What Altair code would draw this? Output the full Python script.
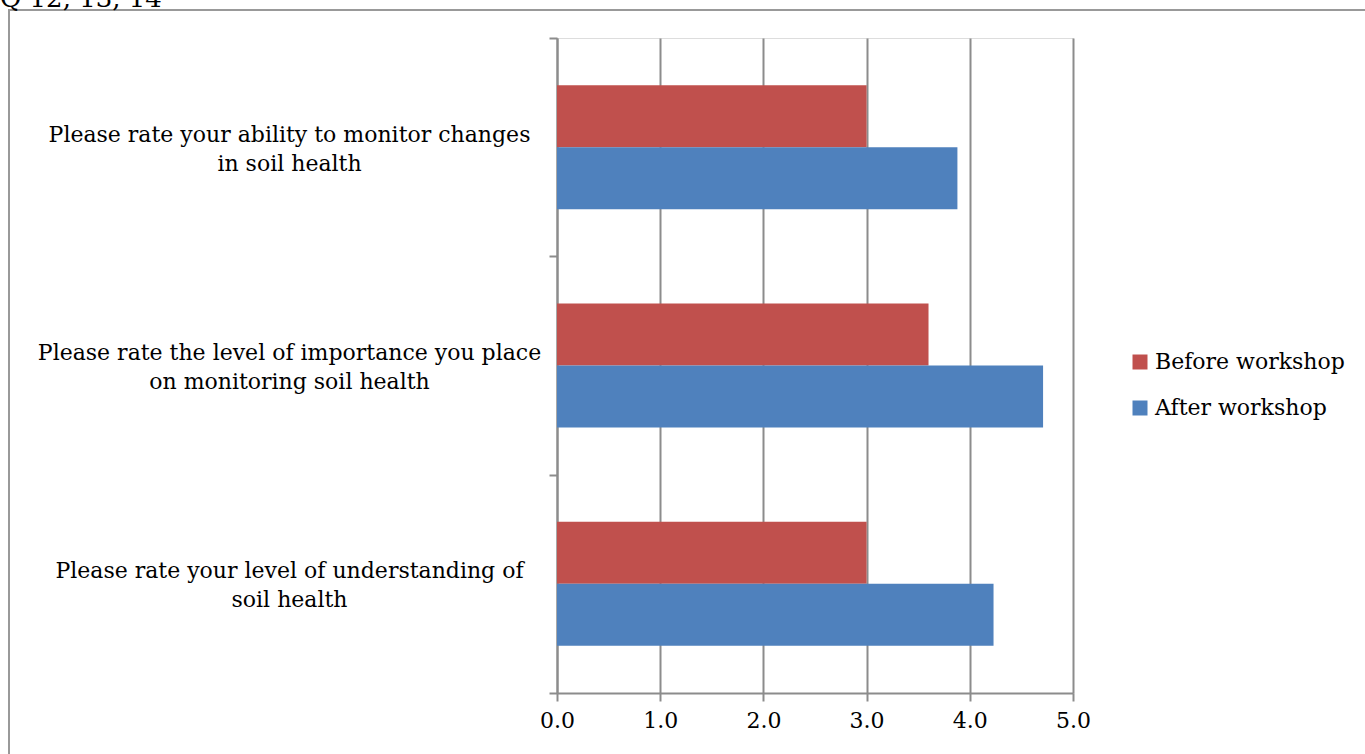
import altair as alt
import pandas as pd

# ---- data ----
categories = [
    "Please rate your ability to monitor changes in soil health",
    "Please rate the level of importance you place on monitoring soil health",
    "Please rate your level of understanding of soil health",
]
label_lines = [
    ["Please rate your ability to monitor changes", "in soil health"],
    ["Please rate the level of importance you place", "on monitoring soil health"],
    ["Please rate your level of understanding of", "soil health"],
]
series = ["Before workshop", "After workshop"]
before_values = [3.0, 3.6, 3.0]
after_values = [3.88, 4.71, 4.23]
x_ticks = [0, 1, 2, 3, 4, 5]
title_text = "Q 12, 13, 14"

colors = ["#C0504D", "#4F81BD"]
FONT = "DejaVu Serif"
FS = 22
GRID = "#8c8c8c"

rows = []
for c, b, a in zip(categories, before_values, after_values):
    rows.append({"question": c, "series": series[0], "value": b})
    rows.append({"question": c, "series": series[1], "value": a})
df = pd.DataFrame(rows)

def js_str(s):
    return "'" + s.replace("'", "\\'") + "'"

mapping = "{" + ",".join(
    js_str(c) + ":[" + ",".join(js_str(l) for l in lines) + "]"
    for c, lines in zip(categories, label_lines)
) + "}"
label_expr = mapping + "[datum.label]"

W, H = 516, 655

bars = alt.Chart(df).mark_bar().encode(
    x=alt.X(
        "value:Q",
        scale=alt.Scale(domain=[0, 5], nice=False),
        axis=alt.Axis(
            values=x_ticks,
            format=".1f",
            title=None,
            grid=True,
            gridColor=GRID,
            gridWidth=2,
            domainColor=GRID,
            domainWidth=2,
            tickColor=GRID,
            tickWidth=2,
            tickSize=8,
            labelFlush=False,
            labelFont=FONT,
            labelFontSize=FS,
            labelColor="#000000",
            labelPadding=9,
        ),
    ),
    y=alt.Y(
        "question:N",
        sort=categories,
        scale=alt.Scale(paddingInner=0, paddingOuter=0),
        axis=alt.Axis(
            title=None,
            tickBand="extent",
            domainColor=GRID,
            domainWidth=2,
            tickColor=GRID,
            tickWidth=2,
            tickSize=8,
            labelExpr=label_expr,
            labelFont=FONT,
            labelFontSize=FS,
            labelColor="#000000",
            labelAlign="center",
            labelBaseline="middle",
            labelLineHeight=29,
            labelOffset=-13,
            labelPadding=260,
            labelLimit=700,
        ),
    ),
    yOffset=alt.YOffset(
        "series:N", sort=series, scale=alt.Scale(paddingInner=0, paddingOuter=0.76)
    ),
    color=alt.Color(
        "series:N",
        sort=series,
        scale=alt.Scale(domain=series, range=colors),
        legend=alt.Legend(
            title=None,
            orient="none",
            legendX=572,
            legendY=313,
            symbolType="square",
            symbolSize=225,
            symbolStrokeWidth=0,
            labelFont=FONT,
            labelFontSize=FS,
            labelColor="#000000",
            labelOffset=4,
            rowPadding=24,
            labelLimit=400,
        ),
    ),
)

frame = alt.Chart(alt.Data(values=[{}])).mark_rect(
    fill=None, stroke="#999999", strokeWidth=2
).encode(
    x=alt.value(-548), y=alt.value(-28), x2=alt.value(830), y2=alt.value(740)
)

title_mark = alt.Chart(alt.Data(values=[{}])).mark_text(
    text=title_text, font=FONT, fontSize=26, align="left", baseline="alphabetic", color="#000000"
).encode(x=alt.value(-557), y=alt.value(-31))

chart = alt.layer(frame, bars, title_mark).properties(
    width=W,
    height=H,
    autosize=alt.AutoSizeParams(type="none"),
    padding={"left": 557, "top": 38, "right": 292, "bottom": 61},
).configure_view(stroke=None).configure(background="white")

chart.save("out.html", embed_options={"renderer": "svg", "actions": False})
